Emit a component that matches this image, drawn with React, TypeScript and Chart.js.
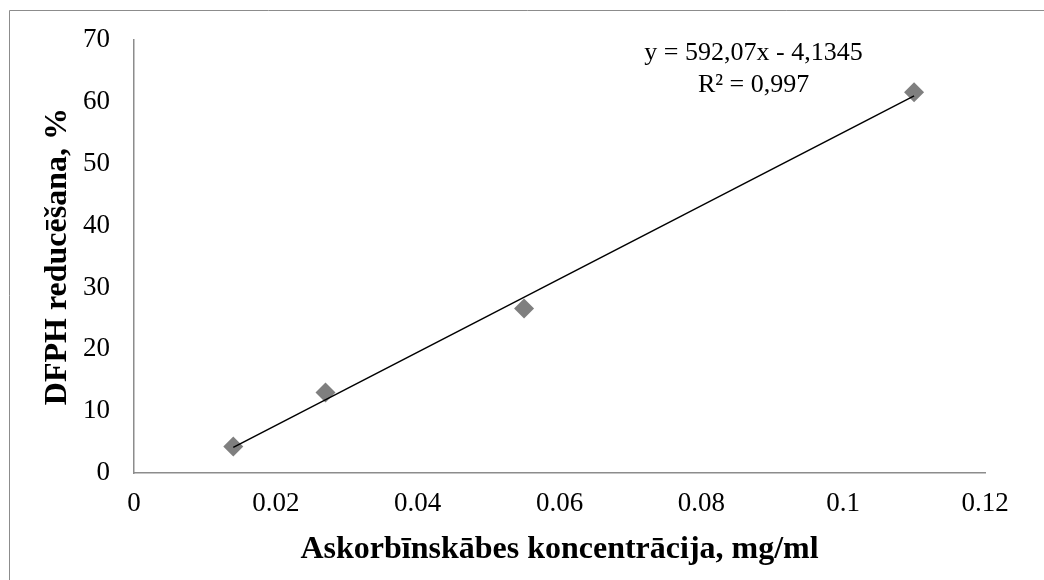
import React, { useEffect, useRef } from "react";
import { Chart, registerables } from "chart.js";

Chart.register(...registerables);

const concentrations = [0.014, 0.027, 0.055, 0.11];
const reductionPct = [4.3, 13.0, 26.6, 61.6];
const trendX = [0.014, 0.11];
const trendY = [4.15, 61.0];
const xTickLabels = ["0", "0.02", "0.04", "0.06", "0.08", "0.1", "0.12"];
const yTickLabels = ["0", "10", "20", "30", "40", "50", "60", "70"];
const equationLines = ["y = 592,07x - 4,1345", "R² = 0,997"];
const xTitle = "Askorbīnskābes koncentrācija, mg/ml";
const yTitle = "DFPH reducēšana, %";

const FONT = "'Liberation Serif', 'Times New Roman', serif";

export default function App() {
  const ref = useRef<HTMLCanvasElement | null>(null);

  useEffect(() => {
    if (!ref.current) return;
    const frame = {
      id: "frame",
      beforeDraw(chart: any) {
        const ctx = chart.ctx;
        ctx.save();
        ctx.fillStyle = "#ffffff";
        ctx.fillRect(0, 0, chart.width, chart.height);
        ctx.strokeStyle = "#8c8c8c";
        ctx.lineWidth = 1;
        ctx.beginPath();
        ctx.moveTo(9.5, chart.height + 5);
        ctx.lineTo(9.5, 10.5);
        ctx.lineTo(chart.width + 5, 10.5);
        ctx.stroke();
        ctx.restore();
      },
      afterDraw(chart: any) {
        const ctx = chart.ctx;
        const a = chart.chartArea;
        ctx.save();
        ctx.fillStyle = "#000";
        ctx.font = `26px ${FONT}`;
        ctx.textAlign = "center";
        ctx.textBaseline = "middle";
        const cx = a.left + (a.right - a.left) * 0.728;
        ctx.fillText(equationLines[0], cx, a.top + 13);
        ctx.fillText(equationLines[1], cx, a.top + 45);
        ctx.restore();
      },
    };

    const chart = new Chart(ref.current, {
      type: "scatter",
      data: {
        datasets: [
          {
            type: "line",
            data: trendX.map((x, i) => ({ x, y: trendY[i] })),
            borderColor: "#000000",
            borderWidth: 1.5,
            pointRadius: 0,
            fill: false,
            order: 0,
          } as any,
          {
            data: concentrations.map((x, i) => ({ x, y: reductionPct[i] })),
            pointStyle: "rectRot",
            pointRadius: 10,
            pointBackgroundColor: "#7f7f7f",
            pointBorderColor: "#7f7f7f",
            pointBorderWidth: 0,
            order: 1,
          },
        ],
      },
      options: {
        animation: false,
        responsive: false,
        devicePixelRatio: 1,
        layout: { padding: { left: 0, top: 40, right: 59, bottom: 0 } },
        plugins: { legend: { display: false }, tooltip: { enabled: false } },
        scales: {
          x: {
            type: "linear",
            min: 0,
            max: 0.12,
            grid: { display: false, drawTicks: false },
            border: { display: true, color: "#8c8c8c", width: 1.5 },
            ticks: {
              stepSize: 0.02,
              padding: 15,
              color: "#000",
              font: { family: FONT, size: 27 },
              callback: (_v: any, i: number) => xTickLabels[i],
              maxRotation: 0,
            },
            title: {
              display: true,
              text: xTitle,
              color: "#000",
              font: { family: FONT, size: 32, weight: "bold" },
              padding: { top: 0, bottom: 11 },
            },
            afterFit: (s: any) => {
              s.height = 107;
            },
          },
          y: {
            min: 0,
            max: 70,
            grid: { display: false, drawTicks: false },
            border: { display: true, color: "#8c8c8c", width: 1.5 },
            ticks: {
              stepSize: 10,
              padding: 24,
              color: "#000",
              font: { family: FONT, size: 27 },
              callback: (_v: any, i: number) => yTickLabels[i],
            },
            title: {
              display: true,
              text: yTitle,
              color: "#000",
              font: { family: FONT, size: 32, weight: "bold" },
              padding: { top: 39, bottom: 0 },
            },
            afterFit: (s: any) => {
              s.width = 134;
            },
          },
        },
      },
      plugins: [frame],
    } as any);
    return () => chart.destroy();
  }, []);

  return (
    <div style={{ position: "fixed", left: 0, top: 0, width: 1044, height: 580 }}>
      <canvas ref={ref} width={1044} height={580} style={{ display: "block" }} />
    </div>
  );
}
